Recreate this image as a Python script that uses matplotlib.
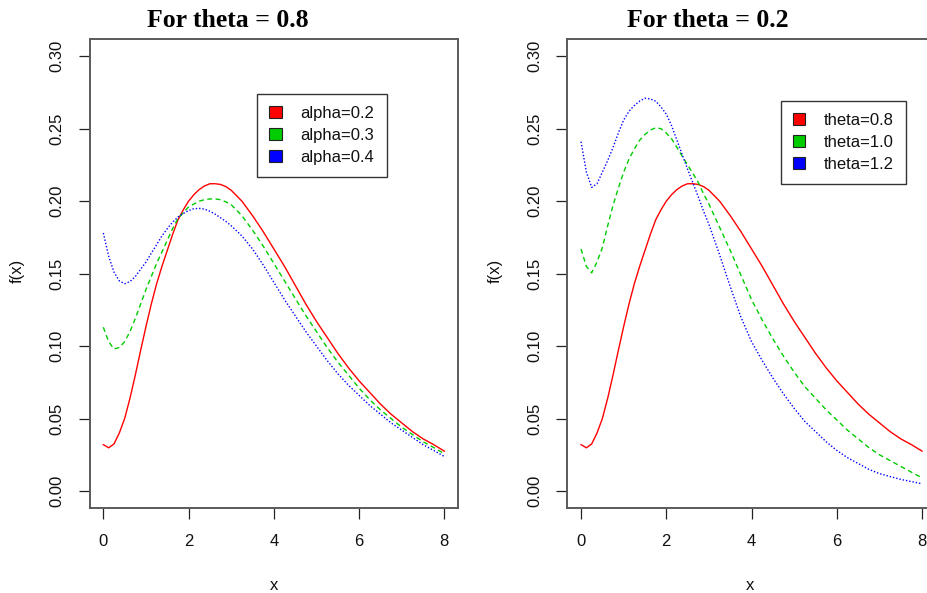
import matplotlib
matplotlib.use("Agg")
import matplotlib.pyplot as plt
from matplotlib.patches import Patch

# ---------------- data ----------------
x = [0, 0.125, 0.25, 0.375, 0.5, 0.625, 0.75, 0.875, 1.0, 1.125, 1.25, 1.375,
     1.5, 1.625, 1.75, 1.875, 2.0, 2.125, 2.25, 2.375, 2.5, 2.625, 2.75, 2.875,
     3.0, 3.25, 3.5, 3.75, 4.0, 4.25, 4.5, 4.75, 5.0, 5.25, 5.5, 5.75, 6.0,
     6.25, 6.5, 6.75, 7.0, 7.25, 7.5, 7.75, 8.0]

# left panel: theta = 0.8, alpha = 0.2 / 0.3 / 0.4
left_alpha02 = [0.032, 0.0298, 0.0325, 0.040, 0.050, 0.064, 0.080, 0.097, 0.1135,
                0.129, 0.143, 0.155, 0.166, 0.177, 0.187, 0.194, 0.200, 0.2045,
                0.208, 0.2105, 0.212, 0.212, 0.2115, 0.2100, 0.2075,
                0.200, 0.190, 0.179, 0.167, 0.155, 0.142, 0.129, 0.117, 0.106,
                0.095, 0.085, 0.076, 0.068, 0.060, 0.053, 0.047, 0.041, 0.036,
                0.032, 0.0275]
left_alpha03 = [0.113, 0.103, 0.098, 0.099, 0.103, 0.110, 0.119, 0.129, 0.139,
                0.148, 0.157, 0.165, 0.173, 0.181, 0.188, 0.192, 0.196, 0.198,
                0.200, 0.201, 0.2015, 0.2015, 0.201, 0.1995, 0.1975,
                0.190, 0.180, 0.169, 0.157, 0.145, 0.133, 0.121, 0.110, 0.099,
                0.089, 0.080, 0.071, 0.063, 0.056, 0.050, 0.044, 0.039, 0.034,
                0.030, 0.0257]
left_alpha04 = [0.178, 0.162, 0.151, 0.145, 0.143, 0.1445, 0.148, 0.153, 0.158,
                0.164, 0.170, 0.176, 0.181, 0.1855, 0.189, 0.1915, 0.1935, 0.1948,
                0.195, 0.1945, 0.193, 0.191, 0.1885, 0.186, 0.1830,
                0.176, 0.167, 0.156, 0.144, 0.132, 0.121, 0.110, 0.100, 0.090,
                0.081, 0.073, 0.066, 0.059, 0.053, 0.047, 0.042, 0.037, 0.032,
                0.028, 0.0238]

# right panel: theta = 0.8 / 1.0 / 1.2
right_theta08 = list(left_alpha02)
right_theta10 = [0.167, 0.155, 0.1505, 0.158, 0.168, 0.183, 0.197, 0.209, 0.220,
                 0.229, 0.236, 0.242, 0.246, 0.249, 0.2506, 0.250, 0.247, 0.243,
                 0.237, 0.231, 0.225, 0.219, 0.213, 0.205, 0.198,
                 0.182, 0.166, 0.149, 0.132, 0.118, 0.105, 0.093, 0.082, 0.072,
                 0.064, 0.056, 0.049, 0.042, 0.036, 0.030, 0.025, 0.021, 0.017,
                 0.013, 0.009]
right_theta12 = [0.241, 0.220, 0.2095, 0.212, 0.220, 0.228, 0.237, 0.247, 0.256,
                 0.262, 0.266, 0.269, 0.271, 0.2705, 0.269, 0.265, 0.260, 0.252,
                 0.242, 0.232, 0.222, 0.2125, 0.203, 0.193, 0.184,
                 0.163, 0.141, 0.120, 0.103, 0.090, 0.078, 0.067, 0.057, 0.048,
                 0.041, 0.034, 0.028, 0.023, 0.019, 0.015, 0.012, 0.010, 0.008,
                 0.0065, 0.005]

titles = ["For theta = 0.8", "For theta = 0.2"]
left_labels = ["alpha=0.2", "alpha=0.3", "alpha=0.4"]
right_labels = ["theta=0.8", "theta=1.0", "theta=1.2"]
x_ticks = [0, 2, 4, 6, 8]
y_ticks = [0.00, 0.05, 0.10, 0.15, 0.20, 0.25, 0.30]
y_ticklabels = ["0.00", "0.05", "0.10", "0.15", "0.20", "0.25", "0.30"]

colors = ["#FF0000", "#00CD00", "#0000FF"]

# ---------------- figure ----------------
W, H = 928, 593
fig = plt.figure(figsize=(W / 100, H / 100), dpi=100)
plt.rcParams["font.family"] = ["Liberation Sans", "DejaVu Sans"]

def px2fig(px, py):
    return px / W, 1 - py / H

ax_w = 368.3 / W
ax_b = (H - 508.4) / H
ax_h = 469.6 / H
axL = fig.add_axes([89.7 / W, ax_b, ax_w, ax_h])
axR = fig.add_axes([567.4 / W, ax_b, ax_w, ax_h])

styles = [dict(linestyle="-"),
          dict(linestyle=(0, (3.5, 2.5))),
          dict(linestyle=(0, (1.0, 1.4)))]

def setup(ax):
    ax.set_xlim(-0.32, 8.32)
    ax.set_ylim(-0.012, 0.312)
    ax.set_xticks(x_ticks)
    ax.set_xticklabels([str(t) for t in x_ticks])
    ax.set_yticks(y_ticks)
    ax.set_yticklabels(y_ticklabels, rotation=90, va="center")
    ax.tick_params(direction="out", length=7.7, width=0.9, color="#222222",
                   labelsize=12, pad=10.5, labelcolor="#111111")
    for s in ax.spines.values():
        s.set_color("#5a5a5a")
        s.set_linewidth(1.4)

for ax, series, labels in [(axL, [left_alpha02, left_alpha03, left_alpha04], left_labels),
                           (axR, [right_theta08, right_theta10, right_theta12], right_labels)]:
    setup(ax)
    for ys, c, st in zip(series, colors, styles):
        ax.plot(x, ys, color=c, linewidth=1.0, **st)

def add_legend(ax, labels, left_px, top_px):
    handles = [Patch(facecolor=c, edgecolor="#222222", linewidth=0.8) for c in colors]
    bx, by = px2fig(left_px, top_px)
    leg = ax.legend(handles, labels, loc="upper left",
                    bbox_to_anchor=(bx, by), bbox_transform=fig.transFigure,
                    fontsize=12, frameon=True, fancybox=False,
                    borderpad=0.72, handlelength=0.74, handleheight=0.74,
                    handletextpad=1.14, labelspacing=0.42, borderaxespad=0)
    fr = leg.get_frame()
    fr.set_edgecolor("#333333")
    fr.set_linewidth(1.0)
    fr.set_alpha(None)
    fr.set_facecolor("white")
    for t in leg.get_texts():
        t.set_color("#111111")

add_legend(axL, left_labels, 257.3, 94)
add_legend(axR, right_labels, 780.7, 101)

# titles
for (cx, txt) in [(227.5, titles[0]), (708, titles[1])]:
    fx, fy = px2fig(cx, 27)
    fig.text(fx, fy, txt, ha="center", va="baseline",
             fontsize=18.5, fontweight="bold", family=["Liberation Serif", "DejaVu Serif"])

# axis labels
for cx in [273.5, 750]:
    fx, fy = px2fig(cx, 590)
    fig.text(fx, fy, "x", ha="center", va="baseline", fontsize=12, color="#111111")
for cx in [17, 495]:
    fx, fy = px2fig(cx, 271)
    fig.text(fx, fy, "f(x)", ha="center", va="center", rotation=90, fontsize=12, color="#111111")

fig.savefig("out.png", dpi=100)
